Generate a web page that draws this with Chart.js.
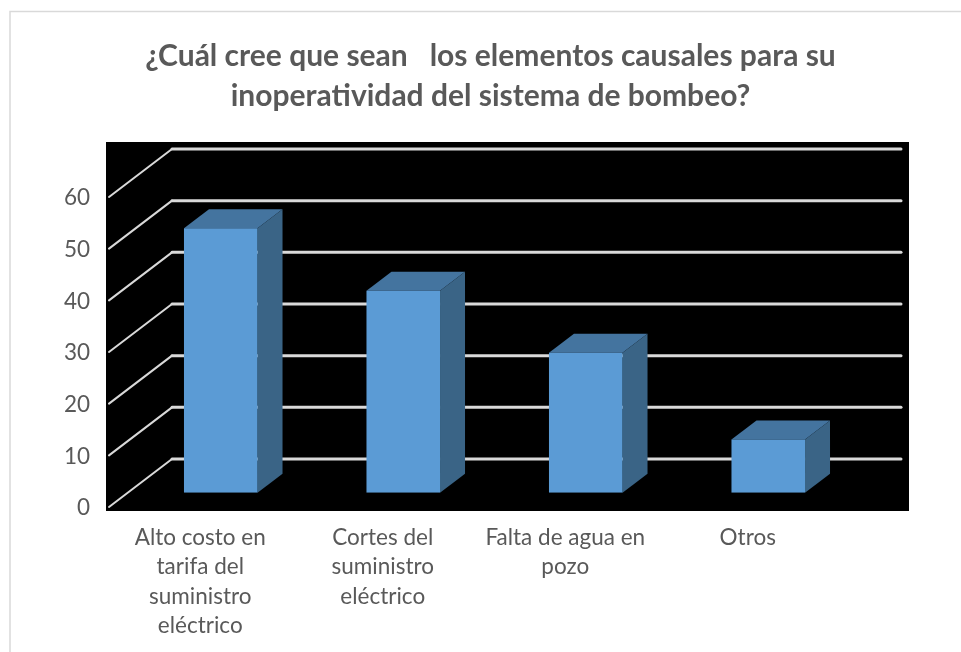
<!DOCTYPE html>
<html lang="es">
<head>
<meta charset="utf-8">
<title>Sistema de bombeo</title>
<script src="https://cdn.jsdelivr.net/npm/chart.js@4/dist/chart.umd.js"></script>
<style>
  html, body { margin: 0; padding: 0; background: #fff; overflow: hidden; }
  canvas { display: block; }
</style>
</head>
<body>
<canvas id="grafico" width="961" height="652"></canvas>
<script>
const titulo = ["¿Cuál cree que sean   los elementos causales para su", "inoperatividad del sistema de bombeo?"];
const categorias = [
  ["Alto costo en", "tarifa del", "suministro", "eléctrico"],
  ["Cortes del", "suministro", "eléctrico"],
  ["Falta de agua en", "pozo"],
  ["Otros"]
];
const valores = [51.2, 39.1, 27.1, 10.3];
const marcasY = [0, 10, 20, 30, 40, 50, 60];

const GRIS_TEXTO = "#595959";
const GRIS_LINEA = "#D9D9D9";

// profundidad de la pared del fondo y de las columnas
const FONDO_X = 63, FONDO_Y = 48;
const COLUMNA_X = 25, COLUMNA_Y = 19;
const DESPLAZA_X = 20.5, DESPLAZA_Y = 14.3;

const efecto3d = {
  id: "efecto3d",
  beforeDraw(chart) {
    const { ctx, chartArea: a } = chart;
    ctx.save();
    ctx.fillStyle = "#fff";
    ctx.fillRect(0, 0, chart.width, chart.height);
    // marco del grafico, solo arriba e izquierda
    ctx.strokeStyle = GRIS_LINEA;
    ctx.lineWidth = 1.5;
    ctx.beginPath();
    ctx.moveTo(10, chart.height);
    ctx.lineTo(10, 11.5);
    ctx.lineTo(chart.width, 11.5);
    ctx.stroke();
    // fondo negro
    ctx.fillStyle = "#000";
    ctx.fillRect(a.left - 3, a.top - 55, a.right - a.left + 73, a.bottom - a.top + 59);
    ctx.restore();
  },
  beforeDatasetsDraw(chart) {
    const { ctx, chartArea: a, scales } = chart;
    ctx.save();
    ctx.strokeStyle = GRIS_LINEA;
    ctx.lineCap = "round";
    marcasY.forEach(v => {
      const y = scales.y.getPixelForValue(v);
      ctx.lineWidth = 2;
      ctx.beginPath();
      ctx.moveTo(a.left, y);
      ctx.lineTo(a.left + FONDO_X, y - FONDO_Y);
      ctx.stroke();
      ctx.lineWidth = 3;
      ctx.beginPath();
      ctx.moveTo(a.left + FONDO_X, y - FONDO_Y);
      ctx.lineTo(a.right + FONDO_X - 1, y - FONDO_Y);
      ctx.stroke();
    });
    ctx.restore();

    // las columnas van un poco hacia adentro del piso
    ctx.save();
    ctx.translate(DESPLAZA_X, -DESPLAZA_Y);
    chart.getDatasetMeta(0).data.forEach(barra => {
      const izq = barra.x - barra.width / 2;
      const der = barra.x + barra.width / 2;
      ctx.fillStyle = "#44749F";
      ctx.beginPath();
      ctx.moveTo(izq, barra.y);
      ctx.lineTo(izq + COLUMNA_X, barra.y - COLUMNA_Y);
      ctx.lineTo(der + COLUMNA_X, barra.y - COLUMNA_Y);
      ctx.lineTo(der, barra.y);
      ctx.closePath();
      ctx.fill();
      ctx.fillStyle = "#3A6486";
      ctx.beginPath();
      ctx.moveTo(der, barra.y);
      ctx.lineTo(der + COLUMNA_X, barra.y - COLUMNA_Y);
      ctx.lineTo(der + COLUMNA_X, barra.base - COLUMNA_Y);
      ctx.lineTo(der, barra.base);
      ctx.closePath();
      ctx.fill();
    });
  },
  afterDatasetsDraw(chart) {
    chart.ctx.restore();
  }
};

new Chart(document.getElementById("grafico"), {
  type: "bar",
  data: {
    labels: categorias,
    datasets: [{
      data: valores,
      backgroundColor: "#5B9BD5",
      borderWidth: 0,
      categoryPercentage: 1,
      barPercentage: 0.403
    }]
  },
  plugins: [efecto3d],
  options: {
    responsive: false,
    animation: false,
    layout: { padding: { left: 20, right: 0, top: 0, bottom: 0 } },
    plugins: {
      legend: { display: false },
      tooltip: { enabled: false },
      title: {
        display: true,
        text: titulo,
        color: GRIS_TEXTO,
        font: { family: "Lato", size: 30, weight: "bold", lineHeight: 40 / 30 },
        padding: { top: 36, bottom: 81 }
      }
    },
    scales: {
      x: {
        grid: { display: false, drawTicks: false },
        border: { display: false },
        ticks: {
          color: GRIS_TEXTO,
          font: { family: "Lato", size: 22.5, lineHeight: 29.3 / 22.5 },
          padding: 16,
          maxRotation: 0,
          minRotation: 0,
          autoSkip: false
        },
        afterFit(s) { s.height = 145; }
      },
      y: {
        min: 0,
        max: 60,
        grid: { display: false, drawTicks: false },
        border: { display: false },
        ticks: {
          color: GRIS_TEXTO,
          font: { family: "Lato", size: 22.5 },
          padding: 19,
          stepSize: 10,
          labelOffset: 1
        },
        afterFit(s) { s.width = 89; }
      },
      // reserva el espacio a la derecha de la pared del fondo
      derecha: {
        position: "right",
        grid: { display: false },
        border: { display: false },
        ticks: { display: false },
        afterFit(s) { s.width = 122; }
      }
    }
  }
});
</script>
</body>
</html>
